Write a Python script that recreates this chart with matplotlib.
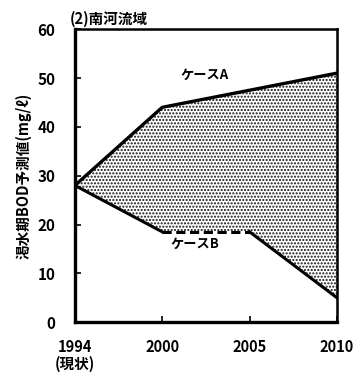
import matplotlib
matplotlib.use("Agg")
import matplotlib.pyplot as plt
import numpy as np

plt.rcParams['font.family'] = ['Noto Sans CJK JP', 'DejaVu Sans']
plt.rcParams['hatch.linewidth'] = 1.0

years = ["1994\n(現状)", "2000", "2005", "2010"]
case_a = [28, 44, 47.5, 51]
case_b = [28, 18.5, 18.5, 5]
yticks = [0, 10, 20, 30, 40, 50, 60]

fig = plt.figure(figsize=(3.6, 3.84), dpi=100)
ax = fig.add_axes([0.208, 0.161, 0.728, 0.763])
x = np.arange(len(years))

ax.fill_between(x, case_b, case_a, facecolor='white', edgecolor='#111111',
                hatch='.....', linewidth=0)
ax.plot(x, case_a, color='black', lw=2.4, solid_capstyle='round')
ax.plot(x[0:2], case_b[0:2], color='black', lw=2.2)
ax.plot(x[1:3], case_b[1:3], color='black', lw=2.2, ls=(0, (3, 1.5)))
ax.plot(x[2:4], case_b[2:4], color='black', lw=2.2)

ax.text(1.49, 50.6, "ケースA", fontsize=9.5, fontweight='bold', ha='center', va='center')
ax.text(1.37, 16.0, "ケースB", fontsize=9.5, fontweight='bold', ha='center', va='center')

ax.set_xlim(0, 3)
ax.set_ylim(0, 60)
ax.set_xticks(x)
ax.set_xticklabels(years, fontsize=10.5, fontweight='bold', linespacing=1.1)
ax.set_yticks(yticks)
ax.set_yticklabels([str(v) for v in yticks], fontsize=11, fontweight='bold')
ax.tick_params(direction='in', length=4, width=1.2)
ax.tick_params(axis='y', pad=14)
ax.tick_params(axis='x', pad=12)
for s in ['left', 'bottom']:
    ax.spines[s].set_linewidth(2.4)
for s in ['top', 'right']:
    ax.spines[s].set_linewidth(1.8)
ax.set_ylabel("渇水期BOD予測値(mg/ℓ)", fontsize=10.5, fontweight='bold', labelpad=4)
ax.set_title("(2)南河流域", fontsize=10.5, fontweight='bold', loc='left', pad=4, x=-0.02)

fig.savefig("out.png", dpi=100)
